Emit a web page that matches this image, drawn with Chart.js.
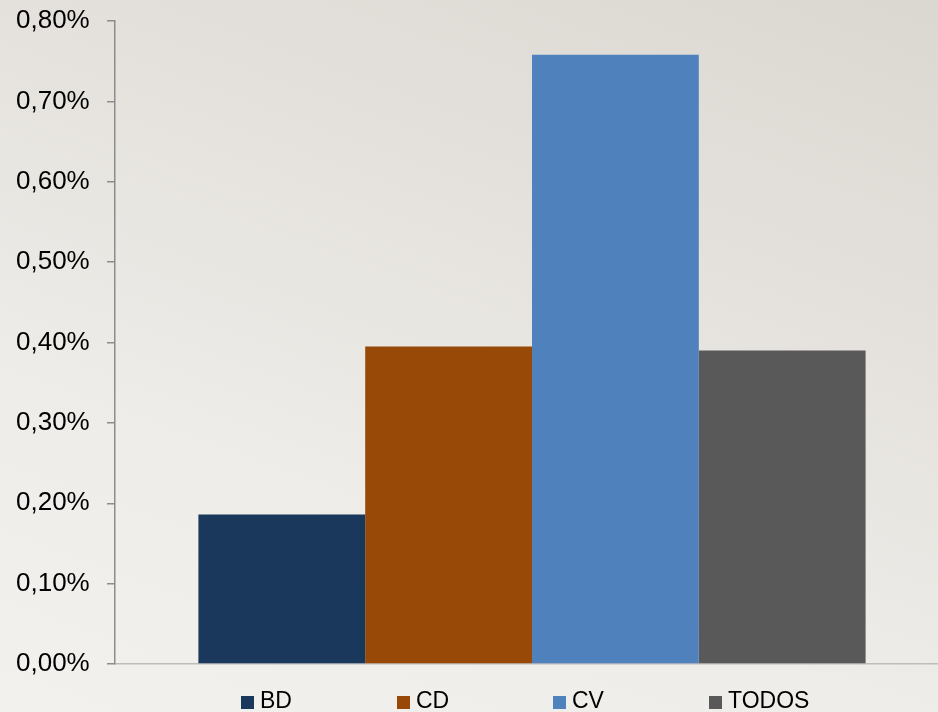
<!DOCTYPE html>
<html>
<head>
<meta charset="utf-8">
<script src="https://cdn.jsdelivr.net/npm/chart.js@4.4.1/dist/chart.umd.min.js"></script>
<style>
  html, body { margin: 0; padding: 0; overflow: hidden; }
  body {
    width: 938px;
    height: 712px;
    background: linear-gradient(200deg, #dbd7d1 0%, #e5e2dd 35%, #eeede9 70%, #f2f1ee 100%);
  }
  #wrap { position: relative; width: 938px; height: 712px; overflow: hidden; }
</style>
</head>
<body>
<div id="wrap"><canvas id="barChart" width="960" height="712"></canvas></div>
<script>
const seriesNames = ['BD', 'CD', 'CV', 'TODOS'];
const seriesValues = [0.186, 0.395, 0.758, 0.39];
const seriesColors = ['#1a375c', '#984807', '#4f81bd', '#595959'];
const yTicks = [0, 0.1, 0.2, 0.3, 0.4, 0.5, 0.6, 0.7, 0.8];

const fontFamily = '"Liberation Sans", Arial, sans-serif';
const padLeft = 16;
const axisX = 115;

function formatPercent(value) {
  return value.toFixed(2).replace('.', ',') + '%';
}

// legend with evenly spaced entries, like the original
const spacedLegend = {
  id: 'spacedLegend',
  afterDraw(chart) {
    const ctx = chart.ctx;
    const startX = 241;
    const step = 156;
    const baseline = 708;
    ctx.save();
    ctx.font = '23px ' + fontFamily;
    ctx.textBaseline = 'alphabetic';
    ctx.textAlign = 'left';
    chart.data.datasets.forEach((ds, i) => {
      const x = startX + i * step;
      ctx.fillStyle = ds.backgroundColor;
      ctx.fillRect(x, baseline - 12, 13, 13);
      ctx.fillStyle = '#000000';
      ctx.fillText(ds.label, x + 19, baseline);
    });
    ctx.restore();
  }
};

const chartCanvas = document.querySelector('#barChart');

let percentBarChart = new Chart(chartCanvas, {
  type: 'bar',
  data: {
    labels: [''],
    datasets: seriesNames.map((name, i) => ({
      label: name,
      data: [seriesValues[i]],
      backgroundColor: seriesColors[i],
      borderWidth: 0,
      categoryPercentage: 0.8,
      barPercentage: 1.0
    }))
  },
  options: {
    responsive: false,
    animation: false,
    layout: {
      padding: { left: padLeft, right: 11, top: 21, bottom: 40 }
    },
    plugins: {
      legend: { display: false },
      tooltip: { enabled: false }
    },
    scales: {
      x: {
        grid: { display: false },
        border: { display: true, color: '#bdbdbd', width: 1.5 },
        ticks: { display: false }
      },
      y: {
        min: 0,
        max: 0.8,
        afterBuildTicks: (axis) => {
          axis.ticks = yTicks.map(v => ({ value: v }));
        },
        afterFit: (axis) => {
          axis.width = axisX - padLeft;
        },
        grid: {
          drawOnChartArea: false,
          drawTicks: true,
          tickLength: 8,
          color: '#8c8c8c',
          lineWidth: 1.5
        },
        border: { display: true, color: '#8c8c8c', width: 1.5 },
        ticks: {
          padding: 3,
          crossAlign: 'far',
          color: '#000000',
          font: { family: fontFamily, size: 26 },
          callback: (value) => formatPercent(value)
        }
      }
    }
  },
  plugins: [spacedLegend]
});
</script>
</body>
</html>
